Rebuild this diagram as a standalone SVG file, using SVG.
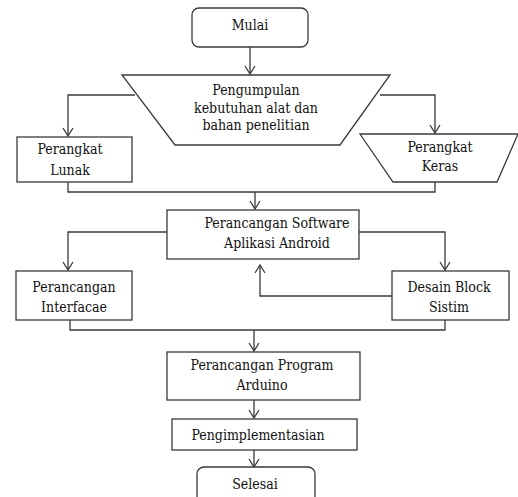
<svg xmlns="http://www.w3.org/2000/svg" width="518" height="497" viewBox="0 0 518 497">
<style>
.s{fill:#fff;stroke:#3a3a3a;stroke-width:1.3}
.c{fill:none;stroke:#3a3a3a;stroke-width:1.3}
.t{font-size:14px;fill:#111;text-anchor:middle;font-stretch:condensed}
</style>
<defs>
<marker id="a" markerWidth="10" markerHeight="12" refX="9" refY="6" orient="auto" markerUnits="userSpaceOnUse" viewBox="0 0 10 12">
<path d="M1,1 L9,6 L1,11" fill="none" stroke="#3a3a3a" stroke-width="1.3"/>
</marker>
</defs>
<rect width="518" height="497" fill="#fff"/>
<g id="connectors">
<path class="c" d="M250,47 V74" marker-end="url(#a)"/>
<path class="c" d="M135,95 H68 V136" marker-end="url(#a)"/>
<path class="c" d="M380,95 H435 V133" marker-end="url(#a)"/>
<path class="c" d="M68,182 V192 H435 V182"/>
<path class="c" d="M255,192 V209" marker-end="url(#a)"/>
<path class="c" d="M167,232 H68 V270" marker-end="url(#a)"/>
<path class="c" d="M359,232 H445 V270" marker-end="url(#a)"/>
<path class="c" d="M392,296 H260 V265" marker-end="url(#a)"/>
<path class="c" d="M70,320 V330 H445 V320"/>
<path class="c" d="M254,330 V351" marker-end="url(#a)"/>
<path class="c" d="M254,400 V418" marker-end="url(#a)"/>
<path class="c" d="M254,450 V467" marker-end="url(#a)"/>
</g>
<g font-family="DejaVu Serif Condensed, DejaVu Serif, serif">
<g id="mulai">
<rect class="s" x="192" y="8" width="116" height="39" rx="7"/>
<text class="t" x="250" y="30">Mulai</text>
</g>
<g id="pengumpulan">
<polygon class="s" points="122,75 390,75 340,145 175,145"/>
<text class="t" x="256" y="95">Pengumpulan</text>
<text class="t" x="256" y="113">kebutuhan alat dan</text>
<text class="t" x="256" y="130">bahan penelitian</text>
</g>
<g id="lunak">
<rect class="s" x="17" y="137" width="115" height="45"/>
<text class="t" x="70" y="154">Perangkat</text>
<text class="t" x="70" y="175">Lunak</text>
</g>
<g id="keras">
<polygon class="s" points="360,134 518,134 497,182 393,182"/>
<text class="t" x="440" y="152">Perangkat</text>
<text class="t" x="440" y="171">Keras</text>
</g>
<g id="software">
<rect class="s" x="167" y="210" width="192" height="49"/>
<text class="t" x="277" y="228">Perancangan Software</text>
<text class="t" x="277" y="248">Aplikasi Android</text>
</g>
<g id="interface">
<rect class="s" x="16" y="271" width="116" height="49"/>
<text class="t" x="74" y="292">Perancangan</text>
<text class="t" x="74" y="312">Interfacae</text>
</g>
<g id="desain">
<rect class="s" x="392" y="271" width="117" height="49"/>
<text class="t" x="449" y="292">Desain Block</text>
<text class="t" x="449" y="312">Sistim</text>
</g>
<g id="arduino">
<rect class="s" x="167" y="352" width="193" height="48"/>
<text class="t" x="262" y="370">Perancangan Program</text>
<text class="t" x="262" y="390">Arduino</text>
</g>
<g id="implementasi">
<rect class="s" x="172" y="419" width="185" height="31"/>
<text class="t" x="258" y="440">Pengimplementasian</text>
</g>
<g id="selesai">
<rect class="s" x="197" y="467" width="118" height="40" rx="7"/>
<text class="t" x="255" y="489">Selesai</text>
</g>
</g>
</svg>
